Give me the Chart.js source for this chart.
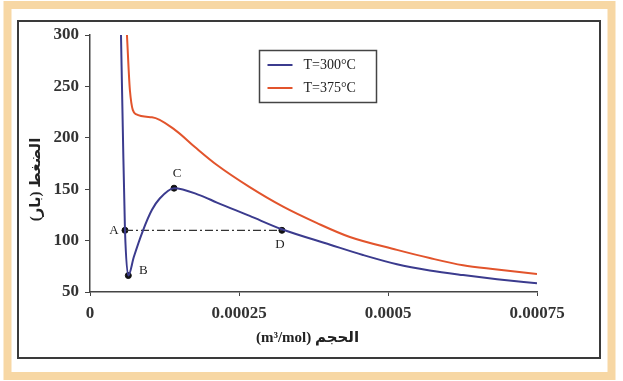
<!DOCTYPE html>
<html>
<head>
<meta charset="utf-8">
<script src="https://cdn.jsdelivr.net/npm/chart.js@4.4.1/dist/chart.umd.min.js"></script>
<style>
    html, body { margin: 0; padding: 0; background: #ffffff; }
    canvas { display: block; }
</style>
</head>
<body>
<canvas id="pv-chart" width="623" height="381"></canvas>
<script>
// Isotherms of a real gas: pressure (bar) against molar volume (m3/mol)
const volume300 = [5.2e-5, 5.5e-5, 5.87e-5, 6.43e-5, 7.35e-5, 8.9e-5, 1.04e-4, 1.17e-4, 1.41e-4, 1.85e-4, 2.13e-4, 2.68e-4, 3.22e-4, 4.03e-4, 4.58e-4, 5.15e-4, 5.7e-4, 6.26e-4, 6.83e-4, 7.5e-4];
const pressure300 = [300, 210, 110, 66, 84, 110, 130, 141, 151, 144, 137, 124, 111, 96, 86, 77, 71, 66.5, 62.5, 58.5];

const volume375 = [6.2e-5, 6.7e-5, 7.7e-5, 1.04e-4, 1.43e-4, 1.76e-4, 2.13e-4, 2.68e-4, 3.24e-4, 3.81e-4, 4.36e-4, 5.15e-4, 5.7e-4, 6.26e-4, 6.83e-4, 7.5e-4];
const pressure375 = [300, 246, 223, 220, 207.5, 191, 173.5, 152, 133, 117, 103.5, 91, 83, 76, 72, 67.5];

// marked points on the 300 °C isotherm
const pointNames = ['A', 'B', 'C', 'D'];
const pointVolume = [5.87e-5, 6.43e-5, 1.41e-4, 3.22e-4];
const pointPressure = [110, 66, 151, 110];

const seriesLabels = ['T=300°C', 'T=375°C'];
const xTickLabels = ['0', '0.00025', '0.0005', '0.00075'];
const yTickValues = [50, 100, 150, 200, 250, 300];
const xTitle = 'الحجم (m³/mol)';
const yTitle = 'الضغط (بار)';

const toPoints = (xs, ys) => xs.map((x, i) => ({ x: x, y: ys[i] }));

// tie line A-D
const tieLine = [0, 3].map(i => ({ x: pointVolume[i], y: pointPressure[i] }));

const serif = '"Liberation Serif", "DejaVu Serif", serif';
const labelOffsets = { A: [-11, 0], B: [15, -5], C: [3, -15], D: [-2, 14] };

const framePlugin = {
    id: 'frame',
    beforeDraw(chart) {
        const ctx = chart.ctx;
        ctx.save();
        ctx.fillStyle = '#ffffff';
        ctx.fillRect(0, 0, chart.width, chart.height);
        // pale orange outer band
        ctx.strokeStyle = '#f7d7a4';
        ctx.lineWidth = 8;
        ctx.strokeRect(7.5, 5, 604, 371);
        // dark inner frame
        ctx.strokeStyle = '#3a3a3a';
        ctx.lineWidth = 2;
        ctx.strokeRect(18, 21, 582, 337);
        ctx.restore();
    },
    afterDraw(chart) {
        const ctx = chart.ctx;
        const area = chart.chartArea;
        ctx.save();

        // point names
        const marks = chart.getDatasetMeta(3).data;
        ctx.fillStyle = '#222';
        ctx.font = '13px ' + serif;
        ctx.textAlign = 'center';
        ctx.textBaseline = 'middle';
        marks.forEach((el, i) => {
            const off = labelOffsets[pointNames[i]];
            ctx.fillText(pointNames[i], el.x + off[0], el.y + off[1]);
        });

        // axis titles (right-to-left text)
        ctx.direction = 'rtl';
        ctx.font = 'bold 15px ' + serif + ', "DejaVu Sans"';
        ctx.fillStyle = '#222';
        ctx.fillText(xTitle, (area.left + area.right) / 2 - 6, 338);
        ctx.save();
        ctx.translate(36, (area.top + area.bottom) / 2 + 16);
        ctx.rotate(-Math.PI / 2);
        ctx.fillText(yTitle, 0, 0);
        ctx.restore();
        ctx.direction = 'ltr';

        // legend box
        const bx = 259.5, by = 50.5, bw = 117, bh = 52;
        ctx.fillStyle = '#ffffff';
        ctx.fillRect(bx, by, bw, bh);
        ctx.strokeStyle = '#444';
        ctx.lineWidth = 1.5;
        ctx.strokeRect(bx, by, bw, bh);
        ctx.font = '14px ' + serif;
        ctx.textAlign = 'left';
        [0, 1].forEach(i => {
            const ds = chart.data.datasets[i];
            const y = by + 14.5 + i * 23;
            ctx.strokeStyle = ds.borderColor;
            ctx.lineWidth = 2;
            ctx.beginPath();
            ctx.moveTo(bx + 8, y);
            ctx.lineTo(bx + 33, y);
            ctx.stroke();
            ctx.fillStyle = '#222';
            ctx.fillText(ds.label, bx + 44, y);
        });
        ctx.restore();
    }
};

new Chart(document.getElementById('pv-chart'), {
    type: 'scatter',
    data: {
        datasets: [{
            label: seriesLabels[0],
            data: toPoints(volume300, pressure300),
            showLine: true,
            borderColor: '#3b3b8e',
            borderWidth: 2,
            pointRadius: 0,
            cubicInterpolationMode: 'monotone'
        }, {
            label: seriesLabels[1],
            data: toPoints(volume375, pressure375),
            showLine: true,
            borderColor: '#e2542c',
            borderWidth: 2,
            pointRadius: 0,
            cubicInterpolationMode: 'monotone'
        }, {
            label: 'tie',
            data: tieLine,
            showLine: true,
            borderColor: '#333',
            borderWidth: 1.2,
            borderDash: [8, 3, 2, 3],
            pointRadius: 0
        }, {
            label: 'points',
            data: toPoints(pointVolume, pointPressure),
            showLine: false,
            pointRadius: 3,
            pointBackgroundColor: '#111',
            pointBorderColor: '#111'
        }]
    },
    options: {
        responsive: false,
        devicePixelRatio: 1,
        animation: false,
        layout: {
            padding: { left: 30, top: 35, right: 86, bottom: 0 }
        },
        plugins: {
            legend: { display: false },
            tooltip: { enabled: false }
        },
        scales: {
            x: {
                type: 'linear',
                min: 0,
                max: 0.00075,
                afterFit: scale => { scale.height = 89; },
                afterBuildTicks: scale => {
                    scale.ticks = xTickLabels.map(t => ({ value: parseFloat(t) }));
                },
                grid: { drawOnChartArea: false, color: '#444', tickLength: 4 },
                border: { color: '#444', width: 1.5 },
                ticks: {
                    autoSkip: false,
                    maxRotation: 0,
                    padding: 7,
                    color: '#333',
                    font: { family: serif, size: 17, weight: 'bold' },
                    callback: (value, i) => xTickLabels[i]
                }
            },
            y: {
                min: 50,
                max: 300,
                afterFit: scale => { scale.width = 60; },
                afterBuildTicks: scale => {
                    scale.ticks = yTickValues.map(v => ({ value: v }));
                },
                grid: { drawOnChartArea: false, color: '#444', tickLength: 5 },
                border: { color: '#444', width: 1.5 },
                ticks: {
                    padding: 6,
                    color: '#333',
                    font: { family: serif, size: 17, weight: 'bold' },
                    callback: value => String(value)
                }
            }
        }
    },
    plugins: [framePlugin]
});
</script>
</body>
</html>
